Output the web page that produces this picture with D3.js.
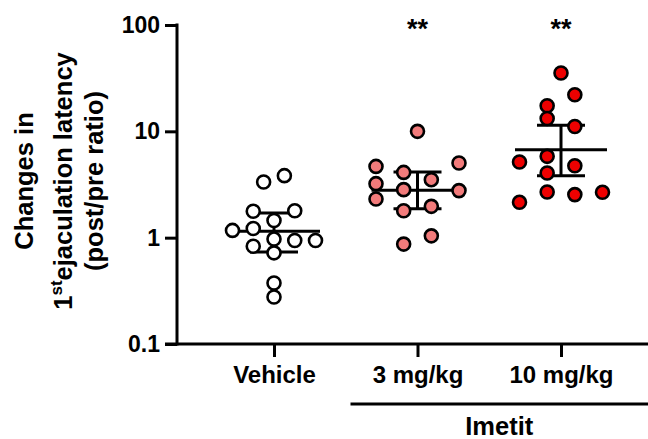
<!DOCTYPE html>
<html><head><meta charset="utf-8">
<script src="https://cdn.jsdelivr.net/npm/d3@7"></script>
<style>body{margin:0;background:#fff}svg{display:block}</style>
</head><body><svg id="c" width="648" height="439"></svg>
<script>
// ---- data ----
const categories = ["Vehicle", "3 mg/kg", "10 mg/kg"];
const vehicleValues = [3.34, 3.83, 1.77, 1.79, 1.45, 1.17, 1.22, 0.97, 0.94, 0.94, 0.83, 0.72, 0.375, 0.277];
const vehicleSlots  = [-0.5, 0.5, -1, 1, 0, -2, -1, 0, 1, 2, -1, 0, 0, 0];
const dose3Values = [10.0, 4.68, 5.04, 4.11, 3.51, 3.22, 2.83, 2.77, 2.31, 1.79, 1.97, 1.04, 0.87];
const dose3Slots  = [0, -1.5, 1.5, -0.5, 0.5, -1.5, -0.5, 1.5, -1.5, -0.5, 0.5, 0.5, -0.5];
const dose10Values = [35.4, 22.1, 17.4, 13.2, 11.1, 5.82, 5.15, 4.75, 4.06, 2.69, 2.67, 2.54, 2.15];
const dose10Slots  = [0, 0.5, -0.5, -0.5, 0.5, -0.5, -1.5, 0.5, -0.5, -0.5, 1.5, 0.5, -1.5];
const geoMean = [1.146, 2.79, 6.72];
const ciLow   = [0.734, 1.87, 3.83];
const ciHigh  = [1.707, 4.15, 11.4];
const significance = ["", "**", "**"];
const yTicks = [0.1, 1, 10, 100];
const yTickLabels = ["0.1", "1", "10", "100"];
const groupLabel = "Imetit";
const groupMembers = ["3 mg/kg", "10 mg/kg"];
const fills = ["#ffffff", "#f27b7b", "#ee0000"];

// ---- layout ----
const W = 648, H = 439;
const mLeft = 177, mTop = 25, mBottom = 344;
const font = "'Liberation Sans', Arial, sans-serif";
const svg = d3.select("#c");

const y = d3.scaleLog().domain([0.1, 100]).range([mBottom, mTop]);
const x = d3.scalePoint().domain(categories).range([274, 561]);
const swarmWidth = 83;

// y axis
const yAxis = svg.append("g").attr("transform", `translate(${mLeft},0)`)
  .call(d3.axisLeft(y).tickValues(yTicks).tickFormat((d, i) => yTickLabels[i]).tickSize(12).tickSizeOuter(0).tickPadding(5));
yAxis.select(".domain").attr("stroke-width", 3).attr("d", `M0,${mTop - 1.5}V${mBottom + 1.5}`);
yAxis.selectAll(".tick line").attr("stroke-width", 3);
yAxis.selectAll(".tick text").attr("font-family", font).attr("font-weight", "bold").attr("font-size", 23).attr("fill", "#000");

// x axis
const xAxis = svg.append("g").attr("transform", `translate(0,${mBottom})`)
  .call(d3.axisBottom(x).tickSize(13).tickSizeOuter(0).tickPadding(9));
xAxis.select(".domain").attr("stroke-width", 3).attr("d", `M${mLeft - 12},0H${W}`);
xAxis.selectAll(".tick line").attr("stroke-width", 3);
xAxis.selectAll(".tick text").attr("font-family", font).attr("font-weight", "bold").attr("font-size", 24).attr("fill", "#000");

// group bracket
const gx0 = x(groupMembers[0]) - 67;
svg.append("line").attr("x1", gx0).attr("x2", W).attr("y1", 404).attr("y2", 404)
  .attr("stroke", "#000").attr("stroke-width", 3);
svg.append("text").attr("x", (gx0 + W) / 2).attr("y", 435).attr("text-anchor", "middle")
  .attr("font-family", font).attr("font-weight", "bold").attr("font-size", 25.5).text(groupLabel);

// y label
const yl = svg.append("g").attr("font-family", font).attr("font-weight", "bold").attr("font-size", 25.5)
  .attr("text-anchor", "middle");
yl.append("text").attr("transform", "translate(33,181) rotate(-90)").text("Changes in");
const l2 = yl.append("text").attr("transform", "translate(72,181) rotate(-90)");
l2.append("tspan").text("1");
l2.append("tspan").attr("font-size", 17).attr("dy", -10).text("st");
l2.append("tspan").attr("dy", 10).text("ejaculation latency");
yl.append("text").attr("transform", "translate(103,181) rotate(-90)").text("(post/pre ratio)");

// error bars
const groups = [
  {cat: categories[0], values: vehicleValues, slots: vehicleSlots},
  {cat: categories[1], values: dose3Values, slots: dose3Slots},
  {cat: categories[2], values: dose10Values, slots: dose10Slots}
];
const eb = svg.append("g").attr("stroke", "#000").attr("stroke-width", 3);
groups.forEach((g, i) => {
  const cx = x(g.cat);
  eb.append("line").attr("x1", cx - 46).attr("x2", cx + 46).attr("y1", y(geoMean[i])).attr("y2", y(geoMean[i]));
  eb.append("line").attr("x1", cx).attr("x2", cx).attr("y1", y(ciHigh[i])).attr("y2", y(ciLow[i]));
  [ciHigh[i], ciLow[i]].forEach(v => {
    eb.append("line").attr("x1", cx - 24).attr("x2", cx + 24).attr("y1", y(v)).attr("y2", y(v));
  });
});

// points
groups.forEach((g, i) => {
  const ext = d3.extent(g.slots);
  const step = swarmWidth / (ext[1] - ext[0]);
  svg.append("g").selectAll("circle").data(g.values).join("circle")
    .attr("cx", (d, j) => x(g.cat) + g.slots[j] * step)
    .attr("cy", d => y(d))
    .attr("r", 6.5)
    .attr("fill", fills[i]).attr("stroke", "#000").attr("stroke-width", 2.6);
});

// significance
svg.append("g").selectAll("text").data(categories).join("text")
  .attr("x", d => x(d)).attr("y", 38).attr("text-anchor", "middle")
  .attr("font-family", font).attr("font-weight", "bold").attr("font-size", 27)
  .text((d, i) => significance[i]);
</script></body></html>
